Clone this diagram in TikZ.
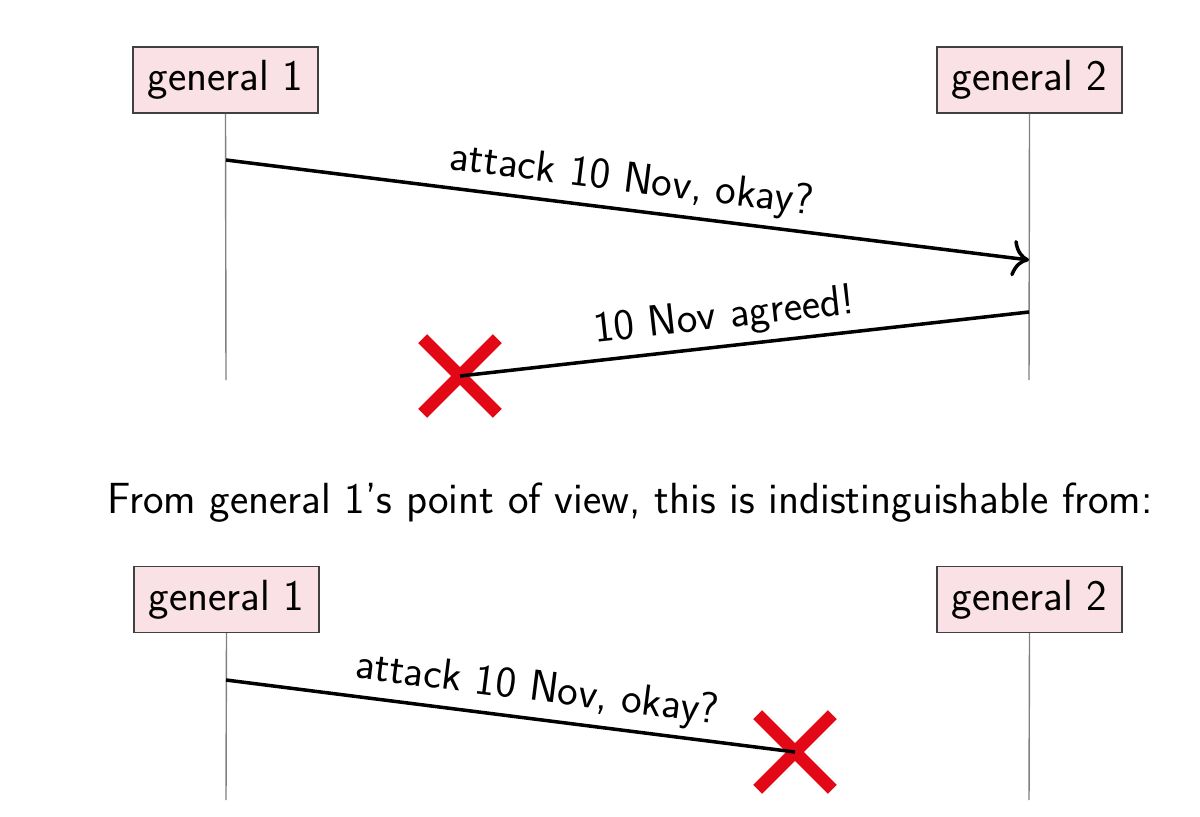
\documentclass[tikz,border=0pt]{standalone}
\usepackage{tikz}
\usetikzlibrary{shapes.misc,arrows.meta}
\definecolor{boxpink}{RGB}{250,225,229}
\definecolor{lostred}{RGB}{226,8,22}

\begin{document}
\begin{tikzpicture}[x=0.025cm, y=-0.025cm,
  font=\sffamily\fontsize{31}{37}\selectfont,
  general/.style={draw=darkgray, line width=1pt, fill=boxpink, minimum width=4.625cm, minimum height=1.65cm, inner sep=0pt},
  lifeline/.style={gray, line width=1pt},
  msg/.style={line width=2.5pt},
  lost/.style={cross out, draw=lostred, line width=9pt, minimum size=1.55cm, inner sep=0pt}]
\useasboundingbox (0,0) rectangle (1200,816);
% what really happened
\node[general] (g1top) at (225.5,80) {general 1};
\node[general] (g2top) at (1029.5,80) {general 2};
\coordinate (g1topend) at (226,380);
\coordinate (g2topend) at (1029,380);
\draw[lifeline] (g1top.south) -- (g1topend);
\draw[lifeline] (g2top.south) -- (g2topend);
\coordinate (ask1) at (226,160);
\coordinate (got1) at (1029,260);
\coordinate (reply1) at (1029,312);
\node[lost] (lost1) at (460,376) {};
\draw[msg,-{To[length=12pt,width=26pt]}] (ask1) -- node[above=2pt, sloped] {attack 10 Nov, okay?} (got1);
\draw[msg] (reply1) -- node[pos=0.53, above=2pt, sloped] {10 Nov agreed!} (lost1.center);
\node[anchor=base] (view) at (630,513) {From general 1's point of view, this is indistinguishable from:};
% what general 1 cannot rule out
\node[general] (g1bot) at (226.5,599.5) {general 1};
\node[general] (g2bot) at (1029.5,599.5) {general 2};
\coordinate (g1botend) at (226,800);
\coordinate (g2botend) at (1029,800);
\draw[lifeline] (g1bot.south) -- (g1botend);
\draw[lifeline] (g2bot.south) -- (g2botend);
\coordinate (ask2) at (226,680);
\node[lost] (lost2) at (795,752) {};
\draw[msg] (ask2) -- node[pos=0.54, above=2pt, sloped] {attack 10 Nov, okay?} (lost2.center);
\end{tikzpicture}
\end{document}
